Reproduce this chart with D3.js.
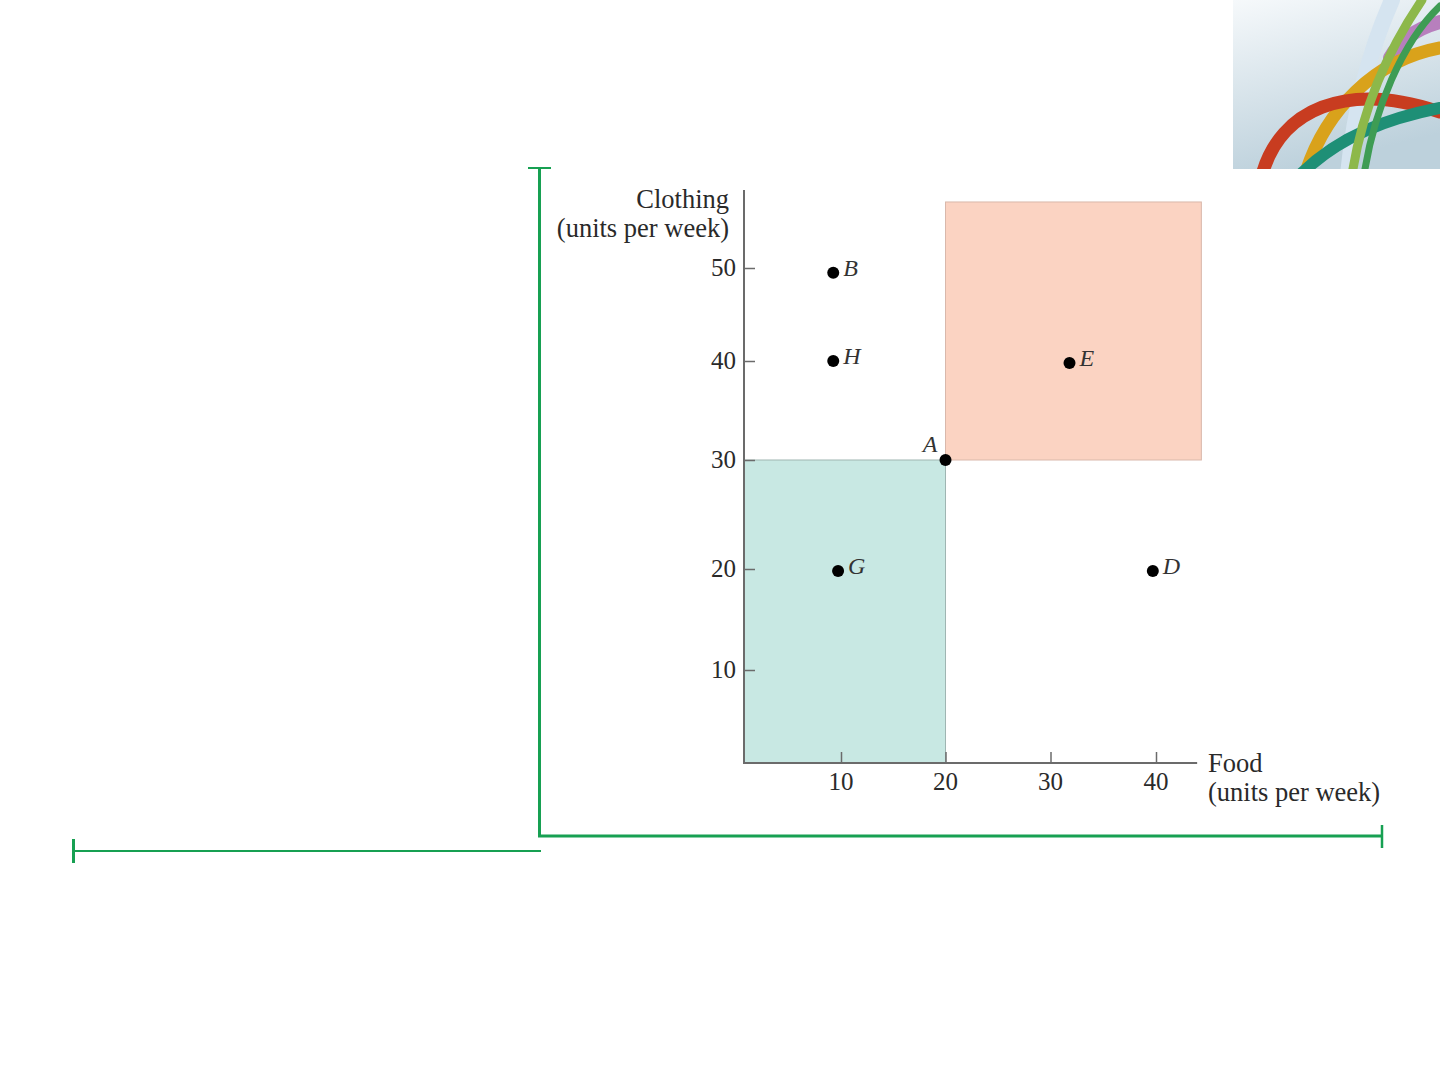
<!DOCTYPE html>
<html><head><meta charset="utf-8">
<script src="https://cdn.jsdelivr.net/npm/d3@7"></script>
<style>html,body{margin:0;padding:0;background:#fff;}svg{display:block;}</style>
</head><body>
<svg id="c" width="1440" height="1080"></svg>
<script>
// ---- data ----
const xTicks = [10, 20, 30, 40];
const yTicks = [10, 20, 30, 40, 50];
const pointLabels = ["B", "H", "A", "E", "G", "D"];
const pointFood = [9.2, 9.2, 20, 31.8, 9.7, 39.7];
const pointClothing = [49.5, 40, 30, 39.8, 19.8, 19.8];
const regionNames = ["worse", "better"];
const regionFood0 = [0.0, 20];
const regionFood1 = [20, 44.3];
const regionCloth0 = [0, 30];
const regionCloth1 = [30, 57.1];
const xTitle = ["Food", "(units per week)"];
const yTitle = ["Clothing", "(units per week)"];

const svg = d3.select("#c");
const serif = "'Liberation Serif','DejaVu Serif',serif";

// ---- scales (piecewise, as drawn) ----
const x = d3.scaleLinear().domain([0, 10, 20, 30, 40]).range([744, 841, 945.5, 1050.5, 1156]);
const y = d3.scaleLinear().domain([0, 10, 20, 30, 40, 50]).range([763, 670, 569, 460, 361, 268]);
const xMax = 43.9, yMax = 58.4;

// ---- decorative image top-right ----
const defs = svg.append("defs");
const g1 = defs.append("linearGradient").attr("id", "bg").attr("x1", 0).attr("y1", 0).attr("x2", 0.3).attr("y2", 1);
g1.append("stop").attr("offset", 0).attr("stop-color", "#f6f9fb");
g1.append("stop").attr("offset", 1).attr("stop-color", "#bdd1dc");
const deco = svg.append("g");
deco.append("rect").attr("x", 1233).attr("y", 0).attr("width", 207).attr("height", 169).attr("fill", "url(#bg)");
const clipId = defs.append("clipPath").attr("id", "dc");
clipId.append("rect").attr("x", 1233).attr("y", 0).attr("width", 207).attr("height", 169);
const dg = deco.append("g").attr("clip-path", "url(#dc)").attr("fill", "none").attr("stroke-linecap", "round");
const tubes = [
  {d: "M1392,0 C1372,45 1355,100 1348,175", c: "#d5e4f0", w: 16},
  {d: "M1440,22 C1418,28 1400,40 1390,58", c: "#b77fbd", w: 14},
  {d: "M1305,175 C1325,110 1375,60 1440,48", c: "#d9a21b", w: 13},
  {d: "M1262,175 C1280,110 1345,80 1440,112", c: "#c83c20", w: 13},
  {d: "M1300,175 C1340,135 1390,118 1440,108", c: "#1e8f76", w: 12},
  {d: "M1422,0 C1388,50 1362,110 1352,175", c: "#8db84a", w: 9},
  {d: "M1440,6 C1402,42 1374,110 1364,175", c: "#3e9c54", w: 7}
];
tubes.forEach(t => dg.append("path").attr("d", t.d).attr("stroke", t.c).attr("stroke-width", t.w));

// ---- green frame lines ----
const green = "#17a052";
const fr = svg.append("g").attr("stroke", green);
fr.append("line").attr("x1", 539.5).attr("y1", 167).attr("x2", 539.5).attr("y2", 837).attr("stroke-width", 3);
fr.append("line").attr("x1", 528).attr("y1", 168).attr("x2", 551).attr("y2", 168).attr("stroke-width", 2);
fr.append("line").attr("x1", 538).attr("y1", 836).attr("x2", 1382).attr("y2", 836).attr("stroke-width", 3);
fr.append("line").attr("x1", 1382).attr("y1", 825).attr("x2", 1382).attr("y2", 848).attr("stroke-width", 2.5);
fr.append("line").attr("x1", 73).attr("y1", 851).attr("x2", 541).attr("y2", 851).attr("stroke-width", 2);
fr.append("line").attr("x1", 73.5).attr("y1", 839).attr("x2", 73.5).attr("y2", 863).attr("stroke-width", 3);

// ---- regions ----
const regFill = ["#c8e8e3", "#fbd3c2"];
const regStroke = ["#9fb5b2", "#d9b8ab"];
svg.append("g").selectAll("rect").data(regionNames).join("rect")
  .attr("x", (d, i) => x(regionFood0[i]))
  .attr("y", (d, i) => y(regionCloth1[i]))
  .attr("width", (d, i) => x(regionFood1[i]) - x(regionFood0[i]))
  .attr("height", (d, i) => y(regionCloth0[i]) - y(regionCloth1[i]))
  .attr("fill", (d, i) => regFill[i])
  .attr("stroke", (d, i) => regStroke[i])
  .attr("stroke-width", 1);

// ---- axes ----
const axisColor = "#6b6b6b";
const xAxis = svg.append("g").attr("transform", `translate(0,${y(0)})`)
  .call(d3.axisTop(x).tickValues(xTicks).tickSize(11).tickFormat(""));
xAxis.select(".domain").remove();
xAxis.selectAll("line").attr("stroke", axisColor).attr("stroke-width", 1.5);
const yAxis = svg.append("g").attr("transform", `translate(${x(0)},0)`)
  .call(d3.axisRight(y).tickValues(yTicks).tickSize(11).tickFormat(""));
yAxis.select(".domain").remove();
yAxis.selectAll("line").attr("stroke", axisColor).attr("stroke-width", 1.5);

svg.append("line").attr("x1", x(0)).attr("x2", x(xMax)).attr("y1", y(0)).attr("y2", y(0))
  .attr("stroke", axisColor).attr("stroke-width", 2);
svg.append("line").attr("x1", x(0)).attr("x2", x(0)).attr("y1", y(0) + 1).attr("y2", y(yMax))
  .attr("stroke", axisColor).attr("stroke-width", 2);

// tick labels
svg.append("g").selectAll("text").data(xTicks).join("text")
  .attr("x", d => x(d)).attr("y", y(0) + 27)
  .attr("text-anchor", "middle").attr("font-family", serif).attr("font-size", 25).attr("fill", "#2a2a2a")
  .text(d => d);
svg.append("g").selectAll("text").data(yTicks).join("text")
  .attr("x", x(0) - 8).attr("y", d => y(d) + 8)
  .attr("text-anchor", "end").attr("font-family", serif).attr("font-size", 25).attr("fill", "#2a2a2a")
  .text(d => d);

// axis titles
svg.append("g").selectAll("text").data(yTitle).join("text")
  .attr("x", 729).attr("y", (d, i) => 208 + i * 29)
  .attr("text-anchor", "end").attr("font-family", serif).attr("font-size", 26.5).attr("fill", "#2a2a2a")
  .text(d => d);
svg.append("g").selectAll("text").data(xTitle).join("text")
  .attr("x", 1208).attr("y", (d, i) => 772 + i * 29)
  .attr("text-anchor", "start").attr("font-family", serif).attr("font-size", 26.5).attr("fill", "#2a2a2a")
  .text(d => d);

// ---- points ----
const pts = svg.append("g");
pts.selectAll("circle").data(pointLabels).join("circle")
  .attr("cx", (d, i) => x(pointFood[i]))
  .attr("cy", (d, i) => y(pointClothing[i]))
  .attr("r", 6).attr("fill", "#000");
pts.selectAll("text").data(pointLabels).join("text")
  .attr("x", (d, i) => d === "A" ? x(pointFood[i]) - 8 : x(pointFood[i]) + 10)
  .attr("y", (d, i) => d === "A" ? y(pointClothing[i]) - 8 : y(pointClothing[i]) + 3)
  .attr("text-anchor", d => d === "A" ? "end" : "start")
  .attr("font-family", serif).attr("font-style", "italic").attr("font-size", 24).attr("fill", "#333")
  .text(d => d);
</script>
</body></html>
